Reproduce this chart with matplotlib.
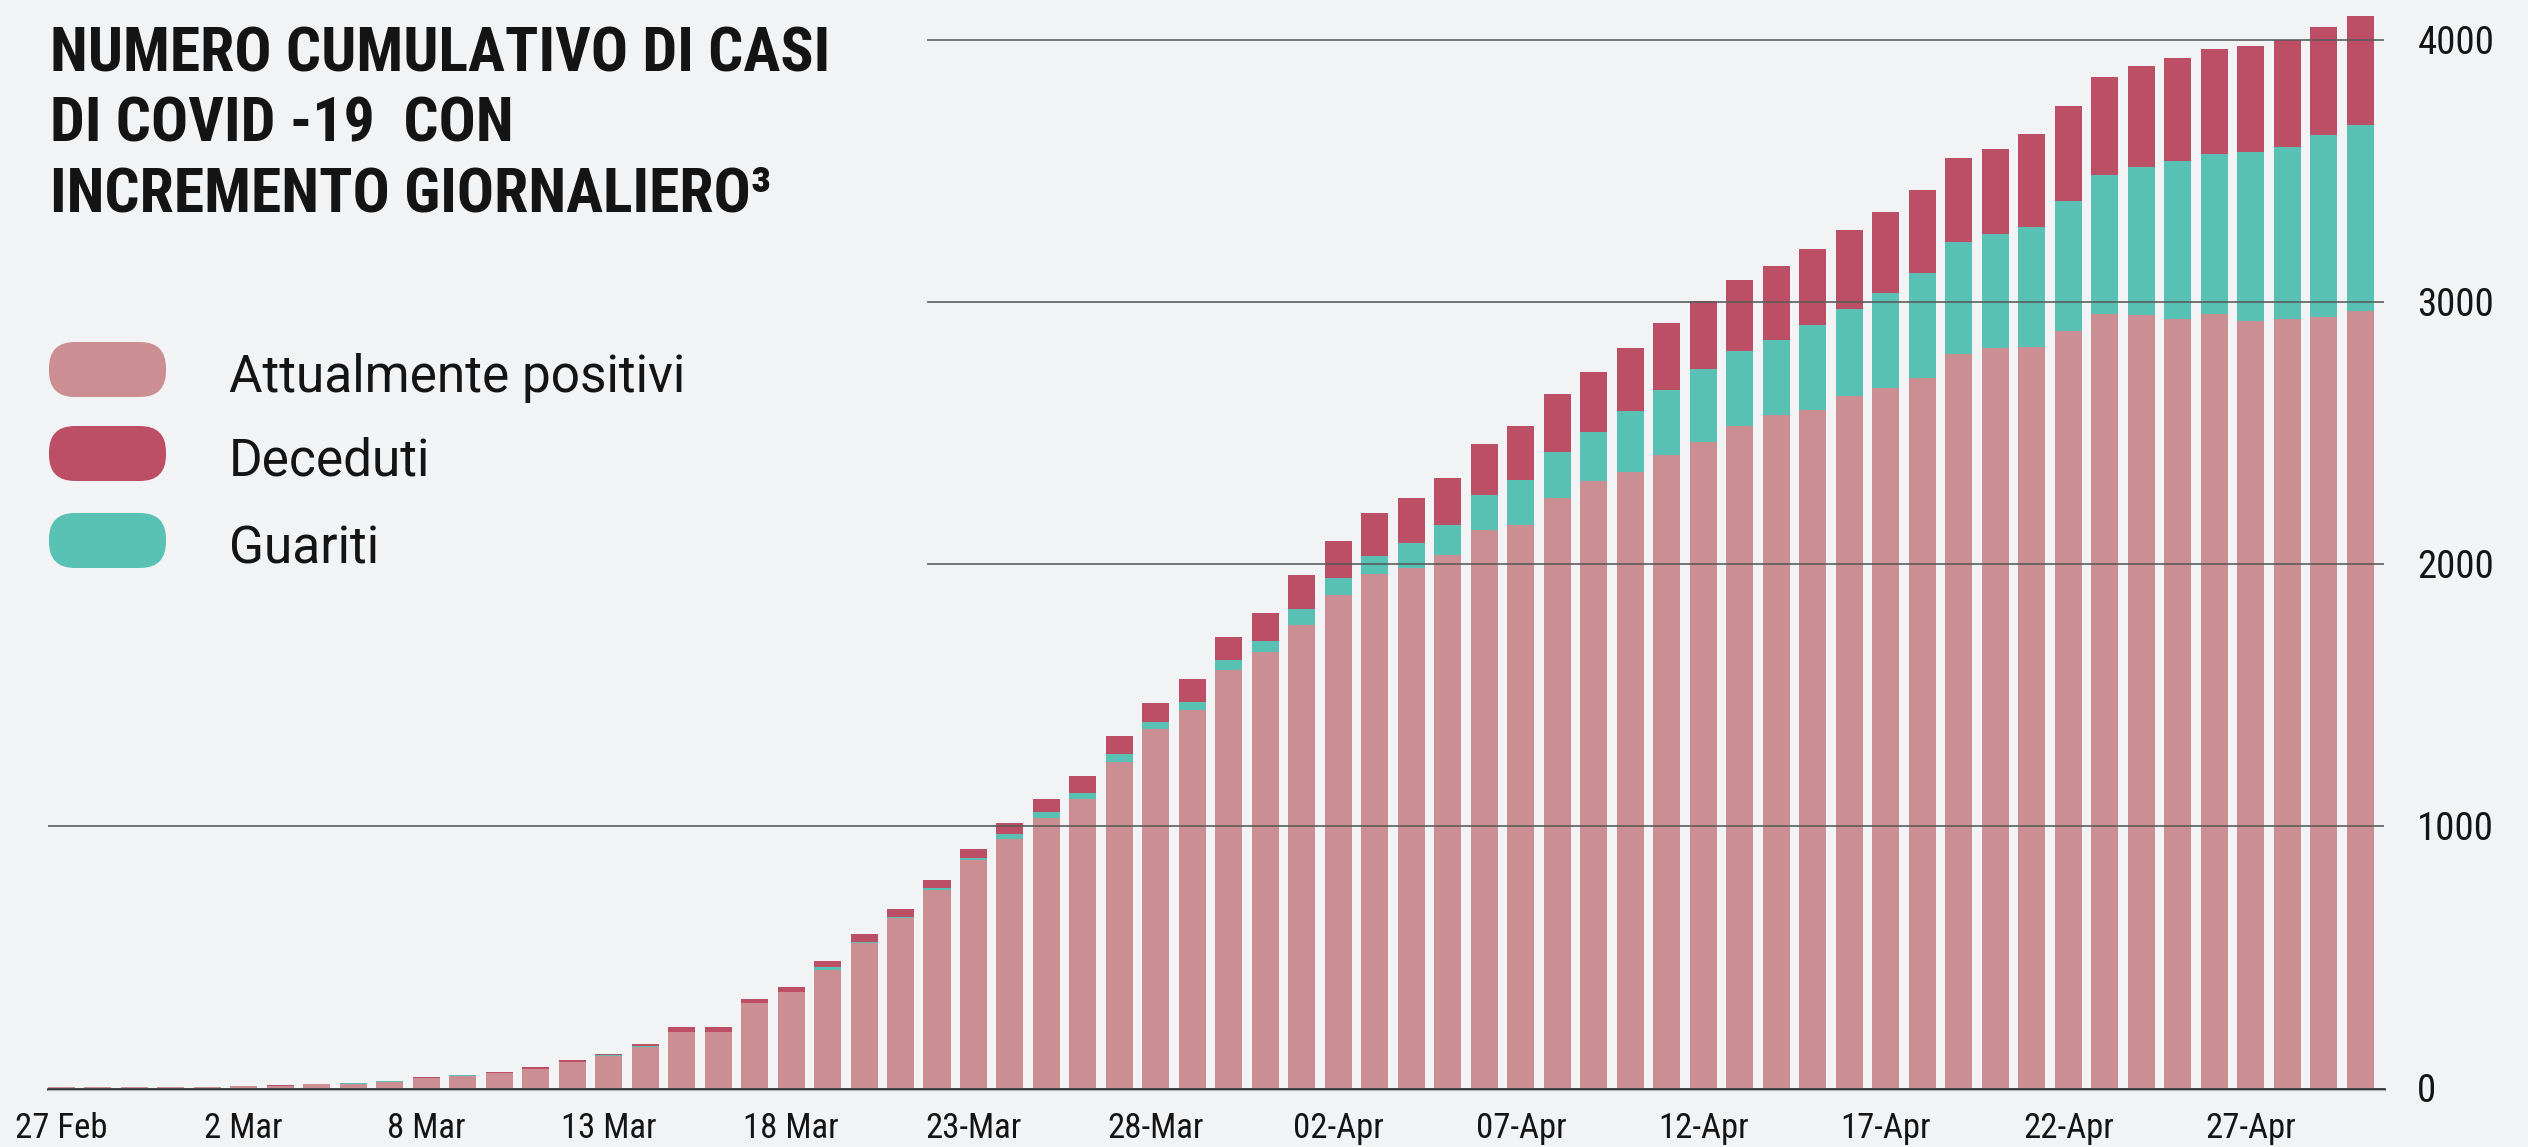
import matplotlib
matplotlib.use('Agg')
import matplotlib.pyplot as plt
from matplotlib import font_manager
from matplotlib.patches import FancyBboxPatch
import numpy as np

#данные графика
positivi = [5, 5, 5, 5, 5, 9, 9, 17, 17, 24, 39, 47, 58, 74, 100, 121, 157, 215, 215, 326,
            368, 452, 555, 649, 755, 870, 950, 1031, 1103, 1244, 1369, 1443, 1595, 1664, 1766, 1880,
            1962, 1985, 2034, 2130, 2149, 2252, 2317, 2351, 2416, 2466, 2527, 2569, 2588, 2641, 2672,
            2710, 2802, 2824, 2828, 2889, 2954, 2949, 2935, 2954, 2927, 2935, 2943, 2966]
guariti = [0, 0, 0, 0, 0, 0, 0, 0, 3, 4, 0, 4, 0, 0, 0, 5, 4, 0, 0, 0,
           0, 8, 4, 3, 7, 7, 19, 22, 23, 31, 28, 30, 39, 42, 62, 67,
           69, 95, 115, 133, 172, 175, 187, 233, 248, 278, 286, 286, 324, 332, 362,
           401, 427, 436, 458, 496, 531, 566, 603, 611, 646, 657, 694, 710]
deceduti = [0, 0, 0, 0, 0, 0, 4, 0, 0, 0, 4, 0, 4, 7, 7, 4, 8, 19, 19, 15,
            19, 23, 27, 31, 31, 35, 42, 50, 65, 69, 72, 88, 87, 107, 130, 141,
            164, 172, 179, 195, 206, 222, 229, 240, 256, 260, 271, 282, 290, 302, 310,
            316, 321, 324, 355, 363, 374, 386, 393, 401, 404, 408, 413, 416]
tick_labels = ['27 Feb', '2 Mar', '8 Mar', '13 Mar', '18 Mar', '23-Mar', '28-Mar',
               '02-Apr', '07-Apr', '12-Apr', '17-Apr', '22-Apr', '27-Apr']
y_ticks = [0, 1000, 2000, 3000, 4000]
legend_labels = ['Attualmente positivi', 'Deceduti', 'Guariti']
title_lines = ['NUMERO CUMULATIVO DI CASI', 'DI COVID -19  CON', 'INCREMENTO GIORNALIERO³']

#цвета
BG = '#f2f3f5'
PINK = '#cb8f93'
RED = '#bc4f66'
TEAL = '#58c1b3'
TXT = '#141414'

#выбор шрифтов из установленных
names = {f.name for f in font_manager.fontManager.ttflist}
COND = next((n for n in ['Roboto Condensed', 'Liberation Sans Narrow', 'DejaVu Sans'] if n in names), 'DejaVu Sans')
PLAIN = next((n for n in ['Roboto', 'Lato', 'DejaVu Sans'] if n in names), 'DejaVu Sans')

W, H = 2528, 1147  #размер картинки в пикселях
fig = plt.figure(figsize=(W / 100, H / 100), dpi=100, facecolor=BG)

#область с барами (в пикселях: слева 48, справа 2384, ноль на 1088)
x_left, x_right, y_zero = 48, 2384, 1088
ax = fig.add_axes([x_left / W, 1 - y_zero / H, (x_right - x_left) / W, y_zero / H])
ax.set_facecolor(BG)

x = np.arange(len(positivi))
pos = np.array(positivi)
gua = np.array(guariti)
dec = np.array(deceduti)
ax.bar(x, pos, width=0.74, color=PINK, zorder=2)  #attualmente positivi
ax.bar(x, gua, width=0.74, bottom=pos, color=TEAL, zorder=2)  #guariti
ax.bar(x, dec, width=0.74, bottom=pos + gua, color=RED, zorder=2)  #deceduti

ax.set_xlim(-0.36, 63.65)
ax.set_ylim(0, y_zero / 0.262)

#сетка поверх баров, верхние линии начинаются правее заголовка
grid_start = (928 - x_left) / (x_right - x_left)
for v in y_ticks[1:]:
    ax.axhline(v, xmin=0 if v == 1000 else grid_start, color='#5a5a5a', lw=1.3, alpha=0.9, zorder=3)
#базовая линия чуть ниже нуля, чтобы не закрывать маленькие бары
ax.axhline(-4.6, color='#111111', lw=1.8, zorder=4, clip_on=False)
ax.axhline(-9.5, color='#b9bbbe', lw=1.0, zorder=4, clip_on=False)

for s in ax.spines.values():
    s.set_visible(False)

ax.set_xticks(x[::5], tick_labels)
ax.tick_params(axis='x', length=0, pad=17, labelsize=25, labelcolor=TXT)
ax.yaxis.tick_right()
ax.set_yticks(y_ticks, [str(v) for v in y_ticks])
ax.tick_params(axis='y', length=0, pad=24, labelsize=28, labelcolor=TXT)
for lab in ax.get_xticklabels() + ax.get_yticklabels():
    lab.set_family(COND)
    lab.set_fontstretch('condensed')

#верхний слой для заголовка и легенды (координаты в пикселях)
ov = fig.add_axes([0, 0, 1, 1])
ov.set_xlim(0, W)
ov.set_ylim(H, 0)
ov.axis('off')
ov.patch.set_alpha(0)

for line, yb in zip(title_lines, [71, 141, 211]):
    ov.text(50, yb, line, fontsize=44.5, fontweight='black', family=COND, fontstretch='condensed',
            color=TXT, va='baseline', ha='left')

for lab, col, yt, yb in zip(legend_labels, [PINK, RED, TEAL], [342, 426, 513], [392, 476, 563]):
    pill = FancyBboxPatch((49, yt), 117, 55, boxstyle='round,pad=0,rounding_size=26',
                          facecolor=col, edgecolor='none')
    ov.add_patch(pill)
    ov.text(229, yb, lab, fontsize=37, fontweight='normal', family=PLAIN,
            color=TXT, va='baseline', ha='left')

fig.savefig('out.png', dpi=100, facecolor=BG)
